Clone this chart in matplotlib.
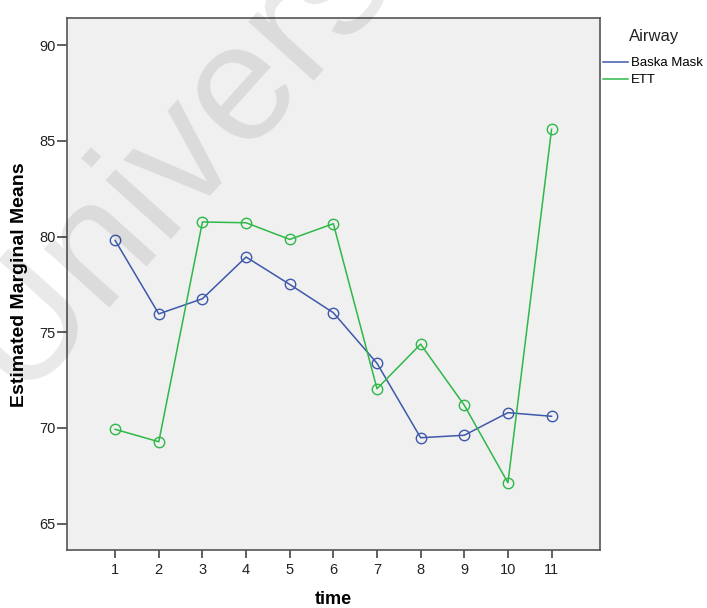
import numpy as np
import matplotlib
matplotlib.use("Agg")
import matplotlib.pyplot as plt
from matplotlib.lines import Line2D

plt.rcParams['font.family'] = ['Liberation Sans', 'DejaVu Sans']

# estimated marginal means per time point
time = [1, 2, 3, 4, 5, 6, 7, 8, 9, 10, 11]
baska = [79.80, 75.96, 76.75, 78.93, 77.50, 76.02, 73.38, 69.49, 69.62, 70.80, 70.61]
ett = [69.93, 69.28, 80.76, 80.72, 79.85, 80.67, 72.05, 74.38, 71.19, 67.14, 85.60]
groups = ["Baska Mask", "ETT"]
yticks = [65, 70, 75, 80, 85, 90]

blue = "#3E58AC"
green = "#2EB848"

fig = plt.figure(figsize=(7.07, 6.08), dpi=100)
ax = fig.add_axes([66.7/707, 1-550.3/608, (600-66.7)/707, (550.3-18.3)/608])
ax.set_facecolor("#F0F0F0")

ax.plot(time, baska, color=blue, lw=1.1, marker='o', ms=7.5, mfc='none', mec=blue, mew=1.0)
ax.plot(time, ett, color=green, lw=1.1, marker='o', ms=7.5, mfc='none', mec=green, mew=1.0)

ax.set_xlim(-0.11, 12.11)
ax.set_ylim(63.61, 91.40)
ax.set_xticks(time)
ax.set_yticks(yticks)
ax.tick_params(axis='both', direction='out', colors='#444444', labelcolor='#222222',
               labelsize=10.5, width=1.2)
ax.tick_params(axis='y', length=7, pad=1)
ax.tick_params(axis='x', length=6, pad=3)
for s in ax.spines.values():
    s.set_color('#555555')
    s.set_linewidth(1.2)

ax.set_xlabel("time", fontsize=13, fontweight='bold', labelpad=10)
ax.set_ylabel("Estimated Marginal Means", fontsize=14, fontweight='bold', labelpad=8)

# legend: title as its own text, entries below it
fig.text(654/707, 1-37/608, "Airway", fontsize=12, color='#222222', ha='center', va='center')
handles = [Line2D([], [], color=blue, lw=1.1), Line2D([], [], color=green, lw=1.1)]
leg = fig.legend(handles, groups, loc='upper left',
                 bbox_to_anchor=(603/707, 1-57/608), frameon=False, fontsize=9.5,
                 borderpad=0, borderaxespad=0, handlelength=1.9,
                 handletextpad=0.25, labelspacing=0.38)

# watermark across the upper left
fig.text(18/707, 1-396/608, "Univers", fontsize=120, color='black', alpha=0.09,
         rotation=48, rotation_mode='anchor', ha='left', va='baseline')

fig.savefig("out.png", dpi=100)
